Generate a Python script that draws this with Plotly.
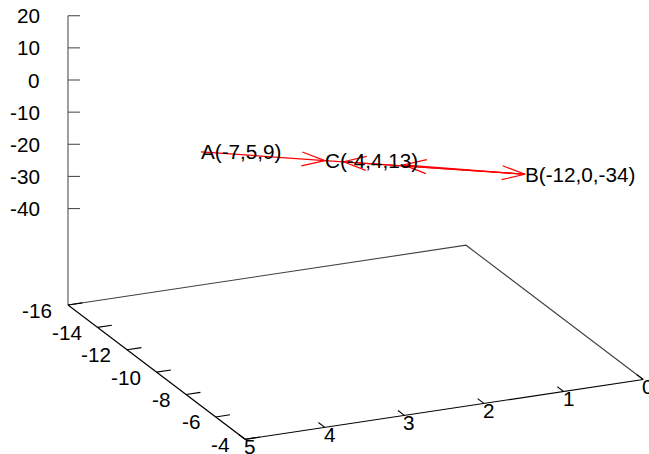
import numpy as np
import plotly.graph_objects as go

# ---- data ----
point_names = ["A", "B", "C"]
point_x = [-7, -12, -4]
point_y = [5, 0, 4]
point_z = [9, -34, 13]

# arrows between named points (start, end)
arrow_pairs = [("A", "C"), ("C", "B")]
# extra short vectors starting at B (end points estimated in data coords)
extra_vec_start = ["B", "B"]
extra_vec_end_x = [-7.3, -4.9]
extra_vec_end_y = [2.4, 3.6]
extra_vec_end_z = [-5.8, 8.0]

x_range = [-16, -4]
y_range = [0, 5]
z_range = [-40, 20]
x_ticks = [-16, -14, -12, -10, -8, -6, -4]
y_ticks = [5, 4, 3, 2, 1, 0]
z_ticks = [-40, -30, -20, -10, 0, 10, 20]

# ---- view (orthographic, gnuplot-like) ----
W, H = 649, 454
rot_x = np.radians(70.28)
rot_z = np.radians(-66.0)
scale = 217.85
zscale = 0.4702
ticslevel = 0.5
cx, cy = 355.6, 149.4
FONT = "Liberation Sans, Arial, sans-serif"
FS = 20.7


def norm(v, r):
    return 2.0 * (np.asarray(v, float) - r[0]) / (r[1] - r[0]) - 1.0


def project(x, y, z):
    nx, ny, nz = norm(x, x_range), norm(y, y_range), norm(z, z_range)
    sx = cx + scale * (np.cos(rot_z) * nx + np.sin(rot_z) * ny)
    v = -np.sin(rot_z) * nx + np.cos(rot_z) * ny
    sy = cy + scale * np.cos(rot_x) * v - scale * np.sin(rot_x) * zscale * nz
    return sx, sy


z_base = z_range[0] - ticslevel * (z_range[1] - z_range[0])

fig = go.Figure()
annotations = []


def add_line(xs, ys, color, width=1.0):
    fig.add_trace(go.Scatter(x=list(xs), y=list(ys), mode="lines",
                             line=dict(color=color, width=width),
                             hoverinfo="skip", showlegend=False))


# base plane
cx0, cx1 = x_range
cy0, cy1 = y_range
L = project(cx0, cy1, z_base)
F = project(cx1, cy1, z_base)
R = project(cx1, cy0, z_base)
Bk = project(cx0, cy0, z_base)
add_line([R[0], Bk[0], L[0]], [R[1], Bk[1], L[1]], "#404040", 1.1)
add_line([L[0], F[0], R[0]], [L[1], F[1], R[1]], "#000000", 1.1)

# z axis
zt = project(cx0, cy1, z_range[1])
add_line([L[0], zt[0]], [L[1], zt[1]], "#505050", 1.1)
for zv in z_ticks:
    sx, sy = project(cx0, cy1, zv)
    add_line([sx, sx + 12], [sy, sy], "#505050", 1.1)
    annotations.append(dict(x=sx - 26, y=sy, text=str(zv), showarrow=False,
                            xanchor="right", yanchor="middle"))

# x ticks (front-left edge)
tic = 0.036
for xv in x_ticks:
    p0 = project(xv, cy1, z_base)
    p1 = project(xv, cy1 - tic * (cy1 - cy0), z_base)
    add_line([p0[0], p1[0]], [p0[1], p1[1]], "#000000", 1.1)
    annotations.append(dict(x=p0[0] - 14, y=p0[1] + 5, text=str(xv), showarrow=False,
                            xanchor="right", yanchor="middle"))

# y ticks (front-right edge)
for yv in y_ticks:
    p0 = project(cx1, yv, z_base)
    p1 = project(cx1 - tic * (cx1 - cx0), yv, z_base)
    add_line([p0[0], p1[0]], [p0[1], p1[1]], "#000000", 1.1)
    annotations.append(dict(x=p0[0] + 5, y=p0[1] + 7, text=str(yv), showarrow=False,
                            xanchor="center", yanchor="middle"))

# points
pts = {n: project(x, y, z) for n, x, y, z in zip(point_names, point_x, point_y, point_z)}


def arrow(p0, p1, color="#ff0000", head_len=23.0, head_w=7.0):
    x0, y0 = p0
    x1, y1 = p1
    d = np.array([x1 - x0, y1 - y0], float)
    d /= np.hypot(*d)
    pr = np.array([-d[1], d[0]])
    a1 = np.array([x1, y1]) - head_len * d + head_w * pr
    a2 = np.array([x1, y1]) - head_len * d - head_w * pr
    add_line([x0, x1, None, a1[0], x1, a2[0]], [y0, y1, None, a1[1], y1, a2[1]], color, 1.2)


for s, e in arrow_pairs:
    arrow(pts[s], pts[e])
for s, ex, ey, ez in zip(extra_vec_start, extra_vec_end_x, extra_vec_end_y, extra_vec_end_z):
    arrow(pts[s], project(ex, ey, ez))

for n, x, y, z in zip(point_names, point_x, point_y, point_z):
    sx, sy = pts[n]
    annotations.append(dict(x=sx - 2, y=sy, text=f"{n}({x},{y},{z})", showarrow=False,
                            xanchor="left", yanchor="middle"))

for a in annotations:
    a["font"] = dict(family=FONT, size=FS, color="#000000")
    a["xref"] = "x"
    a["yref"] = "y"

fig.update_layout(
    width=W, height=H, autosize=False,
    margin=dict(l=0, r=0, t=0, b=0),
    paper_bgcolor="white", plot_bgcolor="white",
    xaxis=dict(range=[0, W], visible=False, fixedrange=True),
    yaxis=dict(range=[H, 0], visible=False, fixedrange=True),
    annotations=annotations,
    showlegend=False,
)
fig.write_html("out.html")
